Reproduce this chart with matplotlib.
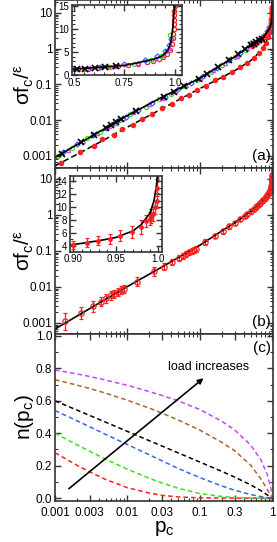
import numpy as np
import matplotlib
matplotlib.use('Agg')
import matplotlib.pyplot as plt
from matplotlib.ticker import FixedLocator, FixedFormatter, LogLocator, NullFormatter, MultipleLocator

plt.rcParams['font.family'] = ['Liberation Sans', 'DejaVu Sans']
plt.rcParams['mathtext.fontset'] = 'custom'
plt.rcParams['mathtext.rm'] = 'Liberation Sans'
plt.rcParams['mathtext.it'] = 'Liberation Sans:italic'

# ---------------- panel (a) ----------------
a_fit_p = [0.001, 0.003, 0.01, 0.03, 0.1, 0.2, 0.3, 0.4, 0.5, 0.6, 0.7, 0.75, 0.8, 0.85,
           0.9, 0.935, 0.95, 0.967, 0.98, 0.985, 0.99, 0.995, 0.999, 0.9999]
a_fit_v = [0.00092, 0.0033, 0.0135, 0.044, 0.15, 0.36, 0.58, 0.9, 1.3, 1.6, 1.9, 2.1, 2.5, 3.0,
           3.5, 4.1, 4.6, 5.5, 7.0, 8.5, 10.0, 12.5, 15.5, 30.0]
a_dash_p = [0.001, 0.003, 0.01, 0.03, 0.1, 0.3, 0.5, 0.7, 0.8, 0.9, 0.95, 0.98, 0.99, 0.999]
a_dash_v = [0.00053, 0.0017, 0.0064, 0.021, 0.077, 0.24, 0.46, 0.88, 1.4, 2.5, 4.5, 8.0, 12.0, 25.0]

red_a_p = [0.0012, 0.0022, 0.0035, 0.0045, 0.0065, 0.0085, 0.012, 0.016, 0.022, 0.03, 0.041,
           0.055, 0.07, 0.09, 0.12, 0.16, 0.21, 0.28, 0.36, 0.45, 0.55, 0.65, 0.75, 0.82,
           0.88, 0.92, 0.95, 0.97, 0.98, 0.99, 0.995]
red_a_v = [0.00062, 0.0013, 0.0019, 0.0029, 0.0038, 0.0056, 0.0075, 0.011, 0.0145, 0.022, 0.028,
           0.042, 0.05, 0.071, 0.09, 0.13, 0.16, 0.23, 0.30, 0.40, 0.55, 0.76, 1.05, 1.45,
           2.1, 2.9, 4.2, 6.0, 7.5, 10.5, 14.0]

red_open_p = [0.52, 0.57, 0.62, 0.67, 0.72, 0.77, 0.82, 0.86, 0.89, 0.92, 0.94, 0.96, 0.975,
              0.985, 0.99, 0.993, 0.995, 0.996, 0.997, 0.998, 0.999, 0.9995]
red_open_v = [1.2, 1.35, 1.5, 1.7, 1.9, 2.1, 2.4, 2.8, 3.1, 3.5, 3.9, 4.6, 5.5,
              6.8, 8.0, 9.0, 10.0, 11.0, 12.0, 13.0, 14.0, 15.0]

green_p = [0.0011, 0.0017, 0.0028, 0.0042, 0.0062, 0.0078, 0.011, 0.018, 0.027, 0.04, 0.06,
           0.09, 0.14, 0.2, 0.3, 0.42, 0.55, 0.68, 0.8, 0.88, 0.93, 0.96, 0.975]
green_v = [0.00098, 0.0017, 0.0031, 0.0048, 0.0079, 0.0099, 0.015, 0.024, 0.039, 0.055, 0.088,
           0.13, 0.23, 0.35, 0.59, 0.94, 1.4, 1.8, 2.4, 3.2, 4.1, 5.2, 8.8]
blue_p = [0.0013, 0.002, 0.0033, 0.005, 0.0072, 0.0095, 0.014, 0.022, 0.033, 0.05, 0.075,
          0.11, 0.17, 0.25, 0.36, 0.5, 0.63, 0.75, 0.85, 0.91, 0.95, 0.97, 0.98]
blue_v = [0.0013, 0.0021, 0.0038, 0.0059, 0.0094, 0.0124, 0.019, 0.031, 0.045, 0.073, 0.11,
          0.17, 0.29, 0.48, 0.77, 1.4, 1.75, 2.3, 3.2, 4.1, 5.2, 6.6, 7.9]
magenta_p = [0.0015, 0.0024, 0.0038, 0.0055, 0.0068, 0.0088, 0.012, 0.02, 0.03, 0.045, 0.065,
             0.1, 0.15, 0.22, 0.32, 0.45, 0.58, 0.7, 0.82, 0.9, 0.94, 0.97]
magenta_v = [0.0015, 0.0026, 0.0043, 0.0069, 0.0085, 0.0118, 0.0165, 0.029, 0.042, 0.067, 0.094,
             0.15, 0.26, 0.4, 0.64, 1.05, 1.5, 1.95, 2.7, 3.6, 4.4, 5.9]
cross_p = [0.00123, 0.0023, 0.0034, 0.005, 0.006, 0.007, 0.0082, 0.013, 0.032, 0.044, 0.06,
           0.097, 0.125, 0.18, 0.25, 0.34, 0.42, 0.512, 0.553, 0.603, 0.652, 0.71]
cross_v = [0.00116, 0.0024, 0.0038, 0.006, 0.0074, 0.0089, 0.0107, 0.0178, 0.046, 0.063, 0.089,
           0.146, 0.195, 0.31, 0.47, 0.70, 0.97, 1.3, 1.35, 1.5, 1.7, 1.9]

# ---------------- panel (b) ----------------
b_fit_p = [0.001, 0.003, 0.01, 0.03, 0.1, 0.2, 0.3, 0.4, 0.5, 0.6, 0.7, 0.8, 0.9, 0.93, 0.95,
           0.97, 0.98, 0.99, 0.995, 0.998, 0.9995, 0.99995]
b_fit_v = [0.00068, 0.0025, 0.0103, 0.036, 0.145, 0.36, 0.6, 0.9, 1.25, 1.7, 2.3, 3.1, 4.2, 4.8, 5.3,
           6.3, 7.3, 9.0, 11.0, 13.5, 16.0, 25.0]
b_p = [0.00137, 0.00232, 0.0033, 0.0043, 0.0051, 0.006, 0.0066, 0.0074, 0.0082, 0.0089, 0.0136,
       0.023, 0.032, 0.041, 0.051, 0.058, 0.064, 0.071, 0.077, 0.083, 0.087, 0.116, 0.164,
       0.206, 0.25, 0.3, 0.36, 0.42, 0.45, 0.5, 0.55, 0.6, 0.64, 0.68, 0.72, 0.75, 0.78, 0.81,
       0.84, 0.87, 0.9, 0.916, 0.929, 0.943, 0.955, 0.969, 0.98, 0.986, 0.99, 0.992, 0.994,
       0.996, 0.998, 0.999]
b_v = [0.0011, 0.0019, 0.0029, 0.0039, 0.0048, 0.0058, 0.0064, 0.0072, 0.0083, 0.009, 0.014,
       0.027, 0.037, 0.049, 0.063, 0.072, 0.081, 0.091, 0.099, 0.108, 0.114, 0.18, 0.26,
       0.35, 0.48, 0.6, 0.78, 0.95, 1.05, 1.25, 1.45, 1.7, 1.9, 2.1, 2.4, 2.6, 2.9, 3.2,
       3.5, 3.9, 4.1, 4.5, 4.8, 5.1, 5.6, 6.2, 6.9, 7.8, 8.2, 8.6, 9.0, 10.0, 11.0, 13.0]
b_err = [1.7, 1.5, 1.4, 1.35, 1.3, 1.3, 1.3, 1.3, 1.3, 1.3, 1.35,
         1.3, 1.25, 1.2, 1.2, 1.2, 1.2, 1.2, 1.2, 1.2, 1.2, 1.2, 1.15,
         1.15, 1.15, 1.15, 1.15, 1.15, 1.15, 1.15, 1.15, 1.15, 1.15, 1.15, 1.15, 1.15, 1.15, 1.15,
         1.15, 1.15, 1.15, 1.15, 1.15, 1.15, 1.15, 1.15, 1.15, 1.12, 1.12, 1.12, 1.12,
         1.1, 1.1, 1.1]

# ---------------- panel (c) ----------------
c_p = [0.001, 0.002, 0.003, 0.005, 0.01, 0.02, 0.03, 0.05, 0.1, 0.2, 0.3, 0.5, 0.7, 0.85, 0.95, 1.0]
n_red = [0.28, 0.203, 0.162, 0.115, 0.064, 0.031, 0.017, 0.007, 0.002, 0.0005, 0.0, 0.0, 0.0, 0.0, 0.0, 0.0]
n_green = [0.40, 0.329, 0.289, 0.240, 0.178, 0.122, 0.093, 0.061, 0.028, 0.010, 0.004, 0.001, 0.0, 0.0, 0.0, 0.0]
n_blue = [0.54, 0.477, 0.440, 0.393, 0.330, 0.267, 0.230, 0.183, 0.126, 0.075, 0.049, 0.022, 0.009, 0.003, 0.001, 0.0]
n_black = [0.60, 0.543, 0.510, 0.468, 0.411, 0.354, 0.321, 0.279, 0.222, 0.165, 0.130, 0.082, 0.045, 0.020, 0.006, 0.0]
n_brown = [0.73, 0.697, 0.676, 0.647, 0.603, 0.555, 0.524, 0.482, 0.419, 0.344, 0.293, 0.204, 0.116, 0.053, 0.015, 0.0]
n_magenta = [0.79, 0.766, 0.750, 0.728, 0.695, 0.657, 0.633, 0.600, 0.546, 0.474, 0.421, 0.328, 0.233, 0.145, 0.063, 0.0]

RED = '#ff2020'
GREEN = '#40dd20'
BLUE = '#3366ff'
MAGENTA = '#c844ff'
BROWN = '#a8662c'
SPINE = '#333333'

log_ticks = [0.001, 0.01, 0.1, 1, 10]
log_labels = ['0.001', '0.01', '0.1', '1', '10']


def style(ax, fs=8.5):
    ax.tick_params(which='both', direction='in', top=True, right=True,
                   labelsize=fs, pad=2, color=SPINE)
    ax.tick_params(which='major', length=4, width=1)
    ax.tick_params(which='minor', length=2, width=0.8)
    for s in ax.spines.values():
        s.set_linewidth(1.2)
        s.set_color(SPINE)


def log_axes(ax):
    ax.set_xscale('log')
    ax.set_yscale('log')
    ax.set_xlim(0.001, 1.02)
    ax.yaxis.set_major_locator(FixedLocator(log_ticks))
    ax.yaxis.set_major_formatter(FixedFormatter(log_labels))
    ax.yaxis.set_minor_locator(LogLocator(subs=np.arange(2, 10)))
    ax.yaxis.set_minor_formatter(NullFormatter())
    ax.xaxis.set_major_locator(FixedLocator([0.001, 0.01, 0.1, 1]))
    ax.xaxis.set_minor_locator(LogLocator(subs=np.arange(2, 10)))
    ax.xaxis.set_major_formatter(NullFormatter())
    ax.xaxis.set_minor_formatter(NullFormatter())
    style(ax)


fig = plt.figure(figsize=(2.77, 5.42), dpi=100)
ax_a = fig.add_axes([0.1986, 0.690, 0.787, 0.310])
ax_b = fig.add_axes([0.1986, 0.3838, 0.787, 0.3063])
ax_c = fig.add_axes([0.1986, 0.0756, 0.787, 0.3082])

sig_label = 'σf$_\\mathregular{c}$/$^\\mathregular{ε}$'

# panel (a)
log_axes(ax_a)
ax_a.set_ylim(4.6e-4, 23)
ax_a.plot(a_dash_p, a_dash_v, color='k', lw=1.1, dashes=(4, 2))
ax_a.plot(red_a_p, red_a_v, 'o', color=RED, ms=3, mec=RED)
ax_a.plot(green_p, green_v, 'o', color=GREEN, ms=3, mfc='none', mew=0.9)
ax_a.plot(blue_p, blue_v, 'D', color=BLUE, ms=2.6, mfc='none', mew=0.9)
ax_a.plot(magenta_p, magenta_v, '^', color=MAGENTA, ms=3, mfc='none', mew=0.9)
ax_a.plot(red_open_p, red_open_v, 'o', color=RED, ms=3.2, mfc='none', mew=0.9)
ax_a.plot(cross_p, cross_v, 'x', color='k', ms=4.5, mew=1.2)
ax_a.plot(a_fit_p, a_fit_v, color='k', lw=1.2)
ax_a.text(0.99, 0.03, '(a)', transform=ax_a.transAxes, ha='right', va='bottom', fontsize=11)
ax_a.set_ylabel(sig_label, fontsize=15)
ax_a.yaxis.set_label_coords(-0.085, 0.5)

ins_a = fig.add_axes([0.259, 0.8616, 0.397, 0.129])
ins_a.plot(red_open_p, red_open_v, 'o', color=RED, ms=3, mfc='none', mew=0.9)
ins_a.plot(green_p, green_v, 'o', color=GREEN, ms=3, mfc='none', mew=0.9)
ins_a.plot(blue_p, blue_v, 'D', color=BLUE, ms=2.6, mfc='none', mew=0.9)
ins_a.plot(magenta_p, magenta_v, '^', color=MAGENTA, ms=3, mfc='none', mew=0.9)
ins_a.plot(cross_p, cross_v, 'x', color='k', ms=4, mew=1.2)
ins_a.plot(a_fit_p, a_fit_v, color='k', lw=1.2)
ins_a.set_xlim(0.488, 1.035)
ins_a.set_ylim(0, 15.2)
ins_a.set_xticks([0.5, 0.75, 1.0])
ins_a.set_xticklabels(['0.5', '0.75', '1.0'])
ins_a.xaxis.set_minor_locator(MultipleLocator(0.05))
ins_a.set_yticks([0, 5, 10, 15])
ins_a.yaxis.set_minor_locator(MultipleLocator(1))
style(ins_a, fs=7)

# panel (b)
log_axes(ax_b)
ax_b.set_ylim(4.95e-4, 20.2)
b_v_arr = np.array(b_v)
b_err_arr = np.array(b_err)
b_yerr = [b_v_arr - b_v_arr / b_err_arr, b_v_arr * b_err_arr - b_v_arr]
ax_b.errorbar(b_p, b_v, yerr=b_yerr, fmt='o', color=RED, ms=3.8, mfc='none', mew=0.9,
              elinewidth=0.9, capsize=1.5, capthick=0.9)
ax_b.plot(b_fit_p, b_fit_v, color='k', lw=1.2)
ax_b.text(0.99, 0.03, '(b)', transform=ax_b.transAxes, ha='right', va='bottom', fontsize=11)
ax_b.set_ylabel(sig_label, fontsize=15)
ax_b.yaxis.set_label_coords(-0.085, 0.5)

ins_b = fig.add_axes([0.2527, 0.5356, 0.331, 0.1397])
ins_b.errorbar(b_p, b_v, yerr=b_v_arr * (b_err_arr - 1), fmt='o', color=RED, ms=2.5,
               mfc=RED, elinewidth=0.9, capsize=1.5, capthick=0.9)
ins_b.plot(b_fit_p, b_fit_v, color='k', lw=1.2)
ins_b.set_xlim(0.896, 1.004)
ins_b.set_ylim(3.1, 14.8)
ins_b.set_xticks([0.90, 0.95, 1.0])
ins_b.set_xticklabels(['0.90', '0.95', '1.0'])
ins_b.xaxis.set_minor_locator(MultipleLocator(0.01))
ins_b.set_yticks([4, 6, 8, 10, 12, 14])
ins_b.yaxis.set_minor_locator(MultipleLocator(1))
style(ins_b, fs=7)

# panel (c)
ax_c.set_xscale('log')
ax_c.set_xlim(0.001, 1.02)
ax_c.set_ylim(-0.018, 1.012)
for vals, col in [(n_red, RED), (n_green, GREEN), (n_blue, BLUE), (n_black, 'k'),
                  (n_brown, BROWN), (n_magenta, MAGENTA)]:
    ax_c.plot(c_p, vals, color=col, lw=1.1, dashes=(3, 2))
ax_c.annotate('', xy=(0.12, 0.75), xytext=(0.00145, 0.047),
              arrowprops=dict(arrowstyle='-|>', color='k', lw=1.2, mutation_scale=8))
ax_c.text(0.13, 0.81, 'load increases', ha='center', va='center', fontsize=9)
ax_c.text(0.99, 0.955, '(c)', transform=ax_c.transAxes, ha='right', va='top', fontsize=11)
ax_c.xaxis.set_major_locator(FixedLocator([0.001, 0.003, 0.01, 0.03, 0.1, 0.3, 1]))
ax_c.xaxis.set_major_formatter(FixedFormatter(['0.001', '0.003', '0.01', '0.03', '0.1', '0.3', '1']))
ax_c.xaxis.set_minor_locator(LogLocator(subs=np.arange(2, 10)))
ax_c.xaxis.set_minor_formatter(NullFormatter())
ax_c.set_yticks([0.0, 0.2, 0.4, 0.6, 0.8, 1.0])
ax_c.set_yticklabels(['0.0', '0.2', '0.4', '0.6', '0.8', '1.0'])
ax_c.yaxis.set_minor_locator(MultipleLocator(0.1))
style(ax_c)
ax_c.tick_params(axis='x', which='major', pad=4)
ax_c.set_ylabel('n(p$_\\mathregular{c}$)', fontsize=15)
ax_c.yaxis.set_label_coords(-0.085, 0.5)
ax_c.set_xlabel('p$_\\mathregular{c}$', fontsize=15, labelpad=0)

fig.savefig('out.png', dpi=100)
